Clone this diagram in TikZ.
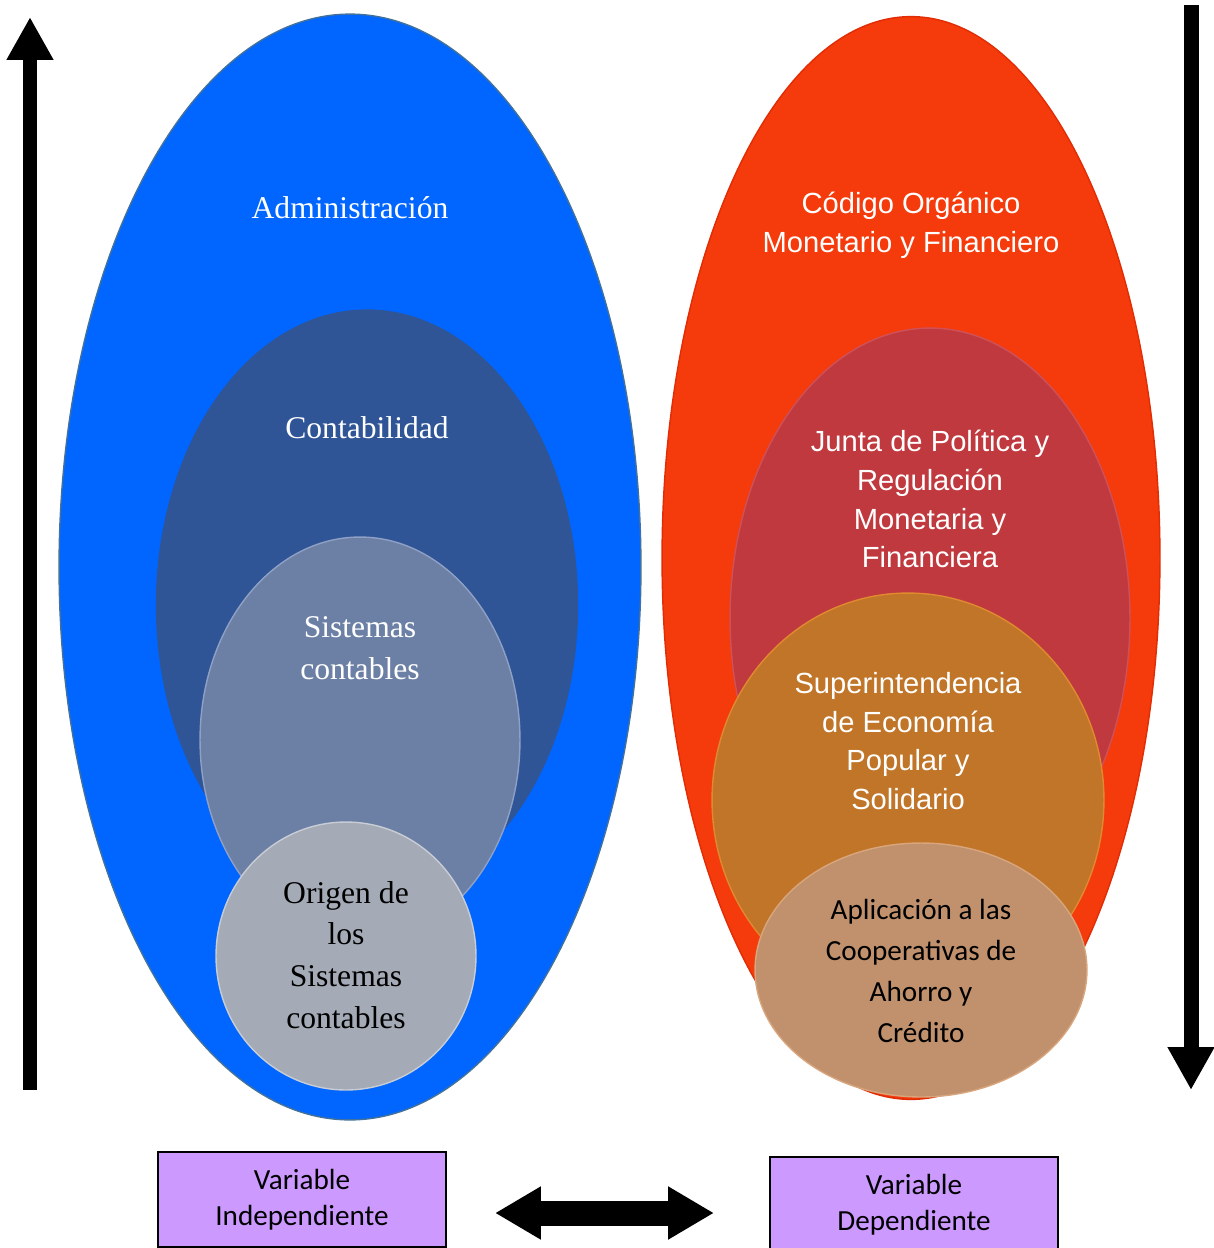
\documentclass[tikz,border=0pt]{standalone}
\usepackage{fontspec}
\setmainfont{Liberation Serif}
\newfontfamily\arialfont{Liberation Sans}
\newfontfamily\calibrifont{Carlito}
\usepackage{tikz}
\usetikzlibrary{arrows.meta,shapes.geometric,positioning}
\usepackage{xcolor}
\definecolor{adblue}{RGB}{0,102,255}
\definecolor{adedge}{RGB}{65,113,156}
\definecolor{coblue}{RGB}{47,85,151}
\definecolor{siblue}{RGB}{108,128,166}
\definecolor{siedge}{RGB}{143,160,196}
\definecolor{orgray}{RGB}{164,170,182}
\definecolor{oredge}{RGB}{200,204,212}
\definecolor{cored}{RGB}{245,58,11}
\definecolor{coredge}{RGB}{225,45,5}
\definecolor{jured}{RGB}{192,57,62}
\definecolor{juedge}{RGB}{208,80,88}
\definecolor{suorange}{RGB}{192,117,40}
\definecolor{suedge}{RGB}{224,138,48}
\definecolor{aptan}{RGB}{192,145,108}
\definecolor{apedge}{RGB}{216,165,124}
\definecolor{varpurple}{RGB}{204,153,255}
\tikzstyle{layer} = [ellipse, inner sep=0pt, line width=0.8pt]
\tikzstyle{timestext} = [text=white, align=center, font=\fontsize{18}{23.8}\selectfont]
\tikzstyle{arialtext} = [text=white, align=center, font=\arialfont\fontsize{16.6}{22.1}\selectfont]
\tikzstyle{varbox} = [rectangle, draw=black, line width=0.8pt, fill=varpurple, minimum width=5.76cm, minimum height=1.9cm, align=center, font=\calibrifont\fontsize{16.6}{20.4}\selectfont]
\tikzstyle{bigarrow} = [line width=0.3cm, -{Triangle[length=0.86cm, width=0.88cm]}]
\tikzstyle{twowayarrow} = [line width=0.5cm, {Triangle[length=0.92cm, width=1.0cm]}-{Triangle[length=0.92cm, width=1.0cm]}]

\begin{document}
\begin{tikzpicture}[x=0.02cm, y=-0.02cm]
\useasboundingbox (0,0) rectangle (1214,1248);

% Independent variable side
\node (admin) [layer, fill=adblue, draw=adedge, minimum width=11.64cm, minimum height=22.12cm] at (350,567) {};
\node (conta) [layer, fill=coblue, draw=coblue, minimum width=8.42cm, minimum height=11.8cm] at (367,605) {};
\node (sistemas) [layer, fill=siblue, draw=siedge, minimum width=6.4cm, minimum height=8.12cm] at (360,740) {};
\node (origen) [layer, fill=orgray, draw=oredge, minimum width=5.2cm, minimum height=5.36cm] at (346,956) {};

\node (admin-text) [timestext] at (350,208) {Administración};
\node (conta-text) [timestext] at (367,428) {Contabilidad};
\node (sistemas-text) [timestext] at (360,648) {Sistemas\\contables};
\node (origen-text) [timestext, text=black] at (346,955) {Origen de\\los\\Sistemas\\contables};

% Dependent variable side
\node (codigo) [layer, fill=cored, draw=coredge, minimum width=9.96cm, minimum height=21.66cm] at (911,558) {};
\node (junta) [layer, fill=jured, draw=juedge, minimum width=8cm, minimum height=11.6cm] at (930,618) {};
\node (superint) [layer, fill=suorange, draw=suedge, minimum width=7.84cm, minimum height=8.28cm] at (908,800) {};
\node (aplic) [layer, fill=aptan, draw=apedge, minimum width=6.64cm, minimum height=5.08cm] at (921,970) {};

\node (codigo-text) [arialtext] at (911,225) {Código Orgánico\\Monetario y Financiero};
\node (junta-text) [arialtext] at (930,499) {Junta de Política y\\Regulación\\Monetaria y\\Financiera};
\node (superint-text) [arialtext] at (908,741) {Superintendencia\\de Economía\\Popular y\\Solidario};
\node (aplic-text) [align=center, font=\calibrifont\fontsize{16.6}{23.2}\selectfont] at (921,971) {Aplicación a las\\Cooperativas de\\Ahorro y\\Crédito};

% Side arrows
\coordinate (up-start) at (30,1090);
\coordinate (up-end) at (30,17);
\coordinate (down-start) at (1191,5);
\coordinate (down-end) at (1191,1090);
\draw[bigarrow] (up-start) -- (up-end);
\draw[bigarrow] (down-start) -- (down-end);

% Variables
\node (indep) [varbox] at (302,1199.5) {Variable\\Independiente};
\node (dep) [varbox] at (914,1204.5) {Variable\\Dependiente};
\coordinate (link-left) at (495,1213);
\coordinate (link-right) at (714,1213);
\draw[twowayarrow] (link-left) -- (link-right);

\end{tikzpicture}
\end{document}
